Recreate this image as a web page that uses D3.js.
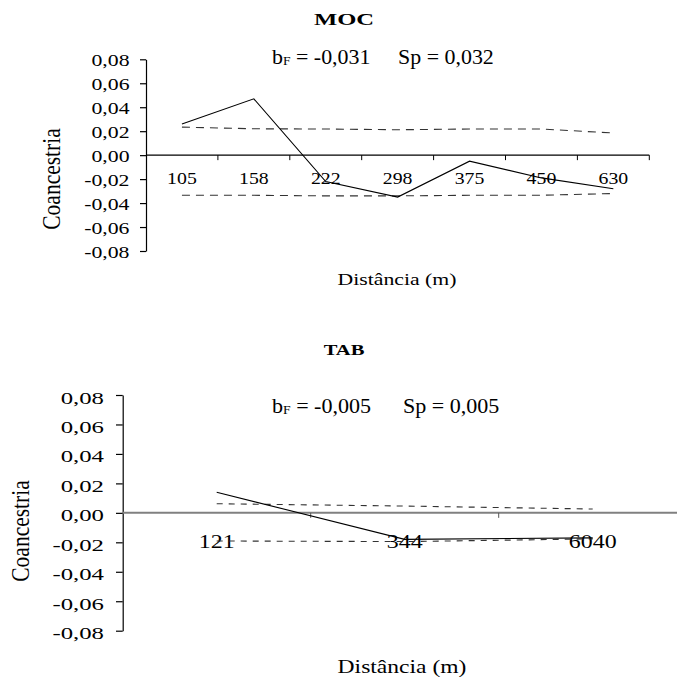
<!DOCTYPE html>
<html>
<head>
<meta charset="utf-8">
<script src="https://cdn.jsdelivr.net/npm/d3@7/dist/d3.min.js"></script>
<style>
  html, body { margin: 0; padding: 0; background: #fff; }
  svg { display: block; }
  text { font-family: "Liberation Serif", "Times New Roman", serif; fill: #000; }
</style>
</head>
<body>
<script>
// ---------- data ----------
const yTickValues = [-0.08, -0.06, -0.04, -0.02, 0, 0.02, 0.04, 0.06, 0.08];

const mocCategories = ["105", "158", "222", "298", "375", "450", "630"];
const mocObserved   = [0.026, 0.047, -0.022, -0.035, -0.005, -0.019, -0.028];
const mocUpper      = [0.0234, 0.022, 0.0218, 0.0212, 0.0218, 0.0218, 0.0185];
const mocLower      = [-0.0335, -0.0335, -0.034, -0.034, -0.0335, -0.0335, -0.032];
const mocStats      = { bF: "-0,031", Sp: "0,032" };

const tabCategories = ["121", "344", "6040"];
const tabObserved   = [0.014, -0.018, -0.017];
const tabUpper      = [0.0062, 0.0046, 0.0026];
const tabLower      = [-0.0191, -0.0195, -0.0177];
const tabStats      = { bF: "-0,005", Sp: "0,005" };

// ---------- layout ----------
const W = 677, H = 677;
const svg = d3.select("body").append("svg").attr("width", W).attr("height", H);
svg.append("rect").attr("width", W).attr("height", H).attr("fill", "#fff");

const fmt = v => d3.format(".2f")(v).replace(".", ",").replace("−", "-");

function stretchText(g, x, y, str, o) {
  return g.append("text")
    .attr("transform", `translate(${x},${y}) scale(${o.sx},1)`)
    .attr("text-anchor", o.anchor || "start")
    .attr("font-size", o.size)
    .attr("font-weight", o.weight || "normal")
    .text(str);
}

function drawPanel(p) {
  const g = svg.append("g");
  const x = d3.scaleBand().domain(p.categories).range([p.x0, p.x0 + p.band * p.categories.length]).padding(0);
  const y = d3.scaleLinear().domain([-0.08, 0.08]).range([p.yBottom, p.yTop]);
  const cx = c => x(c) + x.bandwidth() / 2;

  // Title
  stretchText(g, p.titleX, p.titleY, p.title, { size: p.titleSize, sx: p.titleSx, anchor: "middle", weight: "bold" });

  // Stats annotation
  const a1 = g.append("text")
    .attr("transform", `translate(${p.annX1},${p.annY}) scale(${p.annSx},1)`)
    .attr("font-size", p.annSize);
  a1.append("tspan").text("b");
  a1.append("tspan").attr("font-size", p.annSize * 0.62).attr("dy", 1).text("F");
  a1.append("tspan").attr("dy", -1).text(" = " + p.stats.bF);
  stretchText(g, p.annX2, p.annY, "Sp = " + p.stats.Sp, { size: p.annSize, sx: p.annSx });

  // Y axis
  const yAxis = g.append("g")
    .attr("transform", `translate(${p.x0},0)`)
    .call(d3.axisLeft(y).tickValues(yTickValues).tickFormat(fmt).tickSize(p.yTick).tickSizeOuter(0));
  yAxis.select(".domain").attr("stroke", "#000").attr("stroke-width", 1.2);
  yAxis.selectAll(".tick line").attr("stroke", "#000").attr("stroke-width", 1.2);
  yAxis.selectAll(".tick text")
    .attr("x", null).attr("dy", null)
    .attr("transform", `translate(${-p.yLabelGap},${p.yLabelDy}) scale(${p.yLabelSx},1)`)
    .attr("font-size", p.yLabelSize)
    .attr("font-family", '"Liberation Serif", "Times New Roman", serif')
    .attr("fill", "#000");

  // Y title
  g.append("text")
    .attr("transform", `translate(${p.yTitleX},${p.yTitleY}) rotate(-90) scale(1,${p.yTitleSy})`)
    .attr("text-anchor", "middle")
    .attr("dominant-baseline", "central")
    .attr("font-size", p.yTitleSize)
    .text("Coancestria");

  // X axis (at zero), category labels at band centres, ticks at band edges
  const zeroY = y(0);
  const xAxis = g.append("g")
    .attr("transform", `translate(0,${zeroY})`)
    .call(d3.axisBottom(x).tickSize(0).tickSizeOuter(0));
  xAxis.select(".domain").remove();
  xAxis.selectAll(".tick text")
    .attr("y", null).attr("dy", null)
    .attr("transform", `translate(0,${p.catLabelDy}) scale(${p.catSx},1)`)
    .attr("font-size", p.catSize)
    .attr("text-anchor", "middle")
    .attr("font-family", '"Liberation Serif", "Times New Roman", serif')
    .attr("fill", "#000");

  g.append("line")
    .attr("x1", p.x0).attr("x2", p.xAxisEnd)
    .attr("y1", zeroY).attr("y2", zeroY)
    .attr("stroke", p.xAxisColor).attr("stroke-width", p.xAxisWidth);
  g.selectAll(".xb").data(p.categories).enter().append("line")
    .attr("x1", c => x(c) + x.bandwidth()).attr("x2", c => x(c) + x.bandwidth())
    .attr("y1", zeroY).attr("y2", zeroY + p.xTick)
    .attr("stroke", p.xTickColor).attr("stroke-width", 1);

  // X title
  stretchText(g, p.xTitleX, p.xTitleY, "Distância (m)", { size: p.xTitleSize, sx: p.xTitleSx, anchor: "middle" });

  // Lines
  const line = d3.line().x(d => cx(d.c)).y(d => y(d.v));
  const mk = arr => p.categories.map((c, i) => ({ c, v: arr[i] }));
  g.append("path").datum(mk(p.upper)).attr("d", line)
    .attr("fill", "none").attr("stroke", "#333").attr("stroke-width", 1.1).attr("stroke-dasharray", p.dash);
  g.append("path").datum(mk(p.lower)).attr("d", line)
    .attr("fill", "none").attr("stroke", "#333").attr("stroke-width", 1.1).attr("stroke-dasharray", p.dash);
  g.append("path").datum(mk(p.observed)).attr("d", line)
    .attr("fill", "none").attr("stroke", "#000").attr("stroke-width", 1.1);
}

drawPanel({
  title: "MOC", titleX: 344, titleY: 25, titleSize: 17, titleSx: 1.45,
  stats: mocStats, annX1: 272, annX2: 398, annY: 64, annSize: 20.5, annSx: 1.07,
  categories: mocCategories, observed: mocObserved, upper: mocUpper, lower: mocLower,
  x0: 146, band: 71.9, yTop: 59.3, yBottom: 251,
  yTick: 6, yLabelGap: 16.5, yLabelDy: 6.5, yLabelSize: 16, yLabelSx: 1.36,
  yTitleX: 51, yTitleY: 179, yTitleSize: 21.5, yTitleSy: 1.2,
  catLabelDy: 29, catSize: 16.5, catSx: 1.2,
  xAxisEnd: 649.3, xAxisColor: "#000", xAxisWidth: 1.2, xTick: 5, xTickColor: "#000",
  xTitleX: 397, xTitleY: 285, xTitleSize: 17, xTitleSx: 1.28,
  dash: "8,6"
});

drawPanel({
  title: "TAB", titleX: 344, titleY: 355, titleSize: 15, titleSx: 1.37,
  stats: tabStats, annX1: 272, annX2: 403, annY: 413, annSize: 21, annSx: 1.05,
  categories: tabCategories, observed: tabObserved, upper: tabUpper, lower: tabLower,
  x0: 122.7, band: 188, yTop: 395, yBottom: 630.7,
  yTick: 6.7, yLabelGap: 18.7, yLabelDy: 8, yLabelSize: 17.7, yLabelSx: 1.4,
  yTitleX: 20, yTitleY: 531, yTitleSize: 21.5, yTitleSy: 1.2,
  catLabelDy: 35.5, catSize: 18, catSx: 1.33,
  xAxisEnd: 677, xAxisColor: "#808080", xAxisWidth: 2, xTick: 5, xTickColor: "#555",
  xTitleX: 402, xTitleY: 673, xTitleSize: 19, xTitleSx: 1.24,
  dash: "6,6"
});
</script>
</body>
</html>
